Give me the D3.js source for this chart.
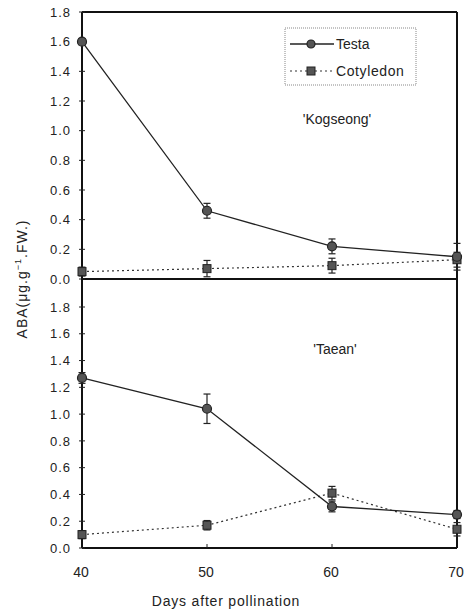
<!DOCTYPE html>
<html>
<head>
<meta charset="utf-8">
<script src="https://cdn.jsdelivr.net/npm/d3@7"></script>
<style>
  body { margin: 0; background: #fff; }
  text { font-family: "Liberation Sans", Arial, sans-serif; fill: #222; }
</style>
</head>
<body>
<div id="canvas"></div>
<script>
var days = [40, 50, 60, 70];
var yTicks = [0, 0.2, 0.4, 0.6, 0.8, 1.0, 1.2, 1.4, 1.6, 1.8];

// Kogseong
var kogTesta = [1.60, 0.46, 0.22, 0.15];
var kogTestaErr = [0.02, 0.05, 0.05, 0.09];
var kogCoty = [0.05, 0.07, 0.09, 0.13];
var kogCotyErr = [0.03, 0.055, 0.05, 0.05];

// Taean
var taeTesta = [1.27, 1.04, 0.31, 0.25];
var taeTestaErr = [0.04, 0.11, 0.04, 0.03];
var taeCoty = [0.10, 0.17, 0.41, 0.14];
var taeCotyErr = [0.03, 0.035, 0.05, 0.05];

(function () {
    var width = 464, height = 611;
    var left = 82, right = 457;

    var svg = d3.select('#canvas')
        .append('svg')
        .attr('width', width)
        .attr('height', height);

    var x = d3.scaleLinear().domain([40, 70]).range([left, right]);

    var panels = [
        { name: "'Kogseong'", top: 12, y: d3.scaleLinear().domain([0, 1.8]).range([279, 12]),
          testa: kogTesta, testaErr: kogTestaErr, coty: kogCoty, cotyErr: kogCotyErr,
          lx: 337, ly: 124 },
        { name: "'Taean'", top: 279, y: d3.scaleLinear().domain([0, 1.8]).range([548, 307]),
          testa: taeTesta, testaErr: taeTestaErr, coty: taeCoty, cotyErr: taeCotyErr,
          lx: 335, ly: 354 }
    ];

    panels.forEach(function (p, pi) {
        var g = svg.append('g');
        var y0 = p.y(0);

        // frame
        g.append('line').attr('x1', left).attr('x2', left).attr('y1', p.top).attr('y2', y0)
            .attr('stroke', '#111').attr('stroke-width', 2);
        g.append('line').attr('x1', right).attr('x2', right).attr('y1', p.top).attr('y2', y0)
            .attr('stroke', '#111').attr('stroke-width', 2);
        g.append('line').attr('x1', left).attr('x2', right).attr('y1', y0).attr('y2', y0)
            .attr('stroke', '#111').attr('stroke-width', 2);
        if (pi == 0) {
            g.append('line').attr('x1', left).attr('x2', right).attr('y1', p.top).attr('y2', p.top)
                .attr('stroke', '#111').attr('stroke-width', 2);
        }

        // y ticks
        g.selectAll('line.yt')
            .data(yTicks).enter()
            .append('line').attr('class', 'yt')
            .attr('x1', left - 3).attr('x2', left + 3)
            .attr('y1', function (d) { return p.y(d); })
            .attr('y2', function (d) { return p.y(d); })
            .attr('stroke', '#222').attr('stroke-width', 1);
        g.selectAll('text.yl')
            .data(yTicks).enter()
            .append('text').attr('class', 'yl')
            .attr('x', 71)
            .attr('y', function (d) { return p.y(d); })
            .attr('dy', '0.36em')
            .attr('text-anchor', 'end')
            .style('font-size', '13px')
            .style('letter-spacing', '1px')
            .text(function (d) { return d3.format('.1f')(d); });

        // cotyledon (dotted)
        var lineC = d3.line()
            .x(function (d, i) { return x(days[i]); })
            .y(function (d) { return p.y(d); });
        g.append('path')
            .attr('d', lineC(p.coty))
            .attr('fill', 'none')
            .attr('stroke', '#333')
            .attr('stroke-width', 1.2)
            .attr('stroke-dasharray', '2,3');

        // testa (solid)
        g.append('path')
            .attr('d', lineC(p.testa))
            .attr('fill', 'none')
            .attr('stroke', '#222')
            .attr('stroke-width', 1.3);

        // error bars
        function errBars(vals, errs) {
            vals.forEach(function (v, i) {
                var cx = x(days[i]), hi = p.y(v + errs[i]), lo = p.y(v - errs[i]);
                g.append('line').attr('x1', cx).attr('x2', cx).attr('y1', hi).attr('y2', lo)
                    .attr('stroke', '#222').attr('stroke-width', 1.2);
                g.append('line').attr('x1', cx - 3.5).attr('x2', cx + 3.5).attr('y1', hi).attr('y2', hi)
                    .attr('stroke', '#222').attr('stroke-width', 1.2);
                g.append('line').attr('x1', cx - 3.5).attr('x2', cx + 3.5).attr('y1', lo).attr('y2', lo)
                    .attr('stroke', '#222').attr('stroke-width', 1.2);
            });
        }
        errBars(p.coty, p.cotyErr);
        errBars(p.testa, p.testaErr);

        g.selectAll('rect.cm')
            .data(p.coty).enter()
            .append('rect').attr('class', 'cm')
            .attr('x', function (d, i) { return x(days[i]) - 4; })
            .attr('y', function (d) { return p.y(d) - 4; })
            .attr('width', 8).attr('height', 8)
            .attr('fill', '#555').attr('stroke', '#222').attr('stroke-width', 1);

        g.selectAll('circle.tm')
            .data(p.testa).enter()
            .append('circle').attr('class', 'tm')
            .attr('cx', function (d, i) { return x(days[i]); })
            .attr('cy', function (d) { return p.y(d); })
            .attr('r', 4.5)
            .attr('fill', '#555').attr('stroke', '#222').attr('stroke-width', 1.2);

        g.append('text')
            .attr('x', p.lx).attr('y', p.ly)
            .attr('text-anchor', 'middle')
            .style('font-size', '14px')
            .text(p.name);
    });

    // x ticks and labels
    svg.selectAll('line.xt')
        .data(days.slice(1, 3)).enter()
        .append('line').attr('class', 'xt')
        .attr('x1', function (d) { return x(d); })
        .attr('x2', function (d) { return x(d); })
        .attr('y1', 548).attr('y2', 544)
        .attr('stroke', '#222').attr('stroke-width', 1);
    svg.selectAll('text.xl')
        .data(days).enter()
        .append('text').attr('class', 'xl')
        .attr('x', function (d) { return x(d) - 1; })
        .attr('y', 577)
        .attr('text-anchor', 'middle')
        .style('font-size', '14px')
        .text(function (d) { return d; });

    svg.append('text')
        .attr('x', 226).attr('y', 606)
        .attr('text-anchor', 'middle')
        .style('font-size', '14px')
        .style('letter-spacing', '0.8px')
        .text('Days after pollination');

    var yl = svg.append('text')
        .attr('transform', 'translate(27,279) rotate(-90)')
        .attr('text-anchor', 'middle')
        .style('font-size', '14px')
        .style('letter-spacing', '1px');
    yl.append('tspan').text('ABA(\u03bcg.g');
    yl.append('tspan').attr('dy', -6).style('font-size', '9px').text('\u22121');
    yl.append('tspan').attr('dy', 6).text('.FW.)');

    // legend
    var lg = svg.append('g');
    lg.append('rect')
        .attr('x', 285).attr('y', 28).attr('width', 131).attr('height', 57)
        .attr('fill', 'none').attr('stroke', '#888').attr('stroke-width', 1)
        .attr('stroke-dasharray', '1,1');
    lg.append('line').attr('x1', 290).attr('x2', 334).attr('y1', 44).attr('y2', 44)
        .attr('stroke', '#222').attr('stroke-width', 1.3);
    lg.append('circle').attr('cx', 311).attr('cy', 44).attr('r', 4)
        .attr('fill', '#555').attr('stroke', '#222').attr('stroke-width', 1.2);
    lg.append('text').attr('x', 336).attr('y', 49).style('font-size', '14px').text('Testa');
    lg.append('line').attr('x1', 290).attr('x2', 334).attr('y1', 71).attr('y2', 71)
        .attr('stroke', '#333').attr('stroke-width', 1.2).attr('stroke-dasharray', '2,3');
    lg.append('rect').attr('x', 307).attr('y', 67).attr('width', 8).attr('height', 8)
        .attr('fill', '#555').attr('stroke', '#222').attr('stroke-width', 1);
    lg.append('text').attr('x', 336).attr('y', 76).style('font-size', '14px')
        .style('letter-spacing', '0.6px').text('Cotyledon');
})();
</script>
</body>
</html>
